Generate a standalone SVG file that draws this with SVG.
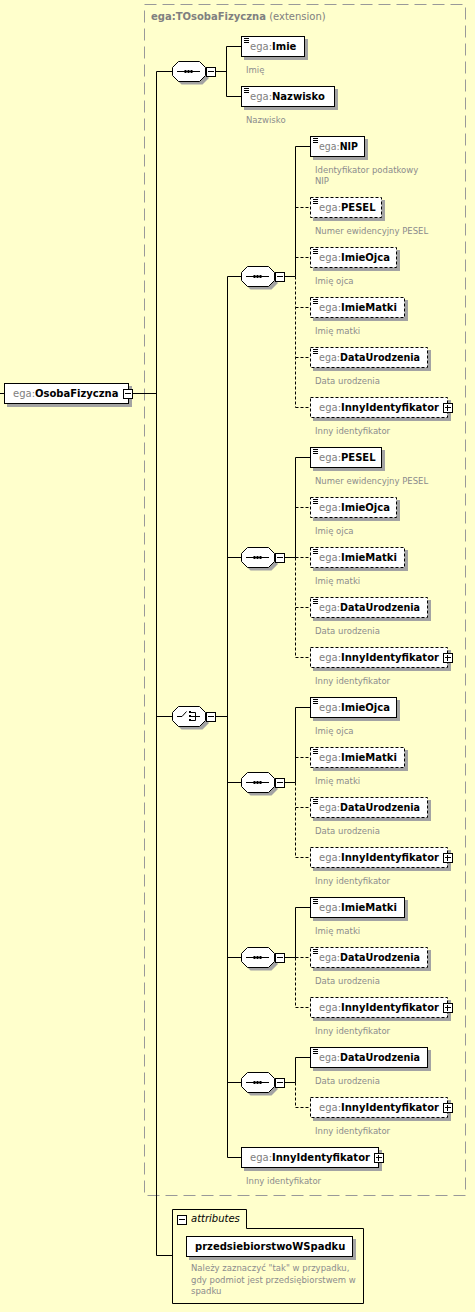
<svg xmlns="http://www.w3.org/2000/svg" xmlns:xlink="http://www.w3.org/1999/xlink" width="475" height="1312" viewBox="0 0 475 1312">
<style>
.bg{fill:#ffffcc}
.ext{fill:none;stroke:#999;stroke-dasharray:12,6}
.sh{fill:#a3a3a3}
.bx{fill:#fff;stroke:#000;stroke-width:1}
.opt{stroke-dasharray:3,2}
.ln{fill:none;stroke:#000;stroke-width:1}
.dl{fill:none;stroke:#000;stroke-width:1;stroke-dasharray:3,2}
.lbl{font-family:"DejaVu Sans",Verdana,sans-serif;font-size:10px}
.ns{fill:#808080}
.nm{fill:#000;font-weight:bold}
.desc{font-family:"DejaVu Sans",Verdana,sans-serif;font-size:8.5px;fill:#8c8c8c}
.ttl{font-family:"DejaVu Sans",Verdana,sans-serif;font-size:10px;fill:#808080}
.att{font-family:"DejaVu Sans",Verdana,sans-serif;font-size:10px;font-style:italic;fill:#000}
</style>
<defs>
<g id="doc"><path d="M0,0.5h5M0,2.5h5M0,4.5h5" stroke="#000" stroke-width="1"/></g>
<g id="bm"><rect x="0.5" y="0.5" width="9" height="9" fill="#fff" stroke="#000"/><path d="M2,4.5h6" stroke="#000"/></g>
<g id="bp"><rect x="0.5" y="0.5" width="9" height="9" fill="#fff" stroke="#000"/><path d="M2,4.5h6M4.5,2v6" stroke="#000"/></g>
<polygon id="oct" points="6.5,0.5 27.5,0.5 33.5,6.5 33.5,14.5 27.5,20.5 6.5,20.5 0.5,14.5 0.5,6.5"/>
<g id="seqN">
<use href="#oct" x="3" y="3" class="sh"/>
<use href="#oct" fill="#fff" stroke="#000"/>
<path d="M5,10.5H28" stroke="#000"/>
<rect x="12.5" y="9" width="2" height="3" fill="#000"/>
<rect x="15.5" y="9" width="2" height="3" fill="#000"/>
<rect x="18.5" y="9" width="2" height="3" fill="#000"/>
<use href="#bm" x="34" y="6"/>
</g>
<g id="choN">
<use href="#oct" x="3" y="3" class="sh"/>
<use href="#oct" fill="#fff" stroke="#000"/>
<path d="M5,10.5H10L14.5,5.5M19,6.5H23.5V14.5H19M19,10.5H28" fill="none" stroke="#000"/>
<rect x="17" y="5" width="2" height="2" fill="#000"/>
<rect x="17" y="9" width="2" height="2" fill="#000"/>
<rect x="17" y="13" width="2" height="2" fill="#000"/>
<use href="#bm" x="34" y="6"/>
</g>
</defs>
<rect class="bg" x="0" y="0" width="475" height="1312"/>

<g id="extension">
<rect class="ext" x="144.5" y="4.5" width="321" height="1191"/>
<text class="ttl" x="151" y="20"><tspan font-weight="bold">ega:TOsobaFizyczna</tspan> (extension)</text>
</g>

<g id="connectors">
<path class="ln" d="M0,393.5H4.5M133,393.5H156.5M156.5,71.5V1255.5M156.5,71.5H172.5M156.5,716.5H172.5M156.5,1255.5H172.5"/>
<path class="ln" d="M216,71.5H226.5M226.5,46.5V96.5M226.5,46.5H241.5M226.5,96.5H241.5"/>
<path class="ln" d="M216,716.5H227.5M227.5,276.5V1157.5M227.5,276.5H241.5M227.5,557.5H241.5M227.5,782.5H241.5M227.5,957.5H241.5M227.5,1082.5H241.5M227.5,1157.5H241.5"/>
<path class="ln" d="M285,276.5H295.5M295.5,146.5V276.5M295.5,146.5H310.5"/>
<path class="dl" d="M295.5,276.5V407.5M295.5,207.5H310.5M295.5,257.5H310.5M295.5,307.5H310.5M295.5,357.5H310.5M295.5,407.5H310.5"/>
<path class="ln" d="M285,557.5H295.5M295.5,457.5V557.5M295.5,457.5H310.5"/>
<path class="dl" d="M295.5,557.5V657.5M295.5,507.5H310.5M295.5,557.5H310.5M295.5,607.5H310.5M295.5,657.5H310.5"/>
<path class="ln" d="M285,782.5H295.5M295.5,707.5V782.5M295.5,707.5H310.5"/>
<path class="dl" d="M295.5,782.5V857.5M295.5,757.5H310.5M295.5,807.5H310.5M295.5,857.5H310.5"/>
<path class="ln" d="M285,957.5H295.5M295.5,907.5V957.5M295.5,907.5H310.5"/>
<path class="dl" d="M295.5,957.5V1007.5M295.5,957.5H310.5M295.5,1007.5H310.5"/>
<path class="ln" d="M285,1082.5H295.5M295.5,1057.5V1082.5M295.5,1057.5H310.5"/>
<path class="dl" d="M295.5,1082.5V1107.5M295.5,1107.5H310.5"/>
</g>

<g id="root">
<rect class="sh" x="7" y="386" width="125" height="21"/>
<rect class="bx" x="4.5" y="383.5" width="124" height="20"/>
<text class="lbl" x="13" y="397"><tspan class="ns">ega:</tspan><tspan class="nm">OsobaFizyczna</tspan></text>
<use href="#bm" x="123" y="389"/>
</g>

<g id="seq1"><use href="#seqN" x="172" y="61"/></g>
<g id="choice"><use href="#choN" x="172" y="706"/></g>
<g id="seqA"><use href="#seqN" x="241" y="266"/></g>
<g id="seqB"><use href="#seqN" x="241" y="547"/></g>
<g id="seqC"><use href="#seqN" x="241" y="772"/></g>
<g id="seqD"><use href="#seqN" x="241" y="947"/></g>
<g id="seqE"><use href="#seqN" x="241" y="1072"/></g>

<g id="imie">
<rect class="sh" x="244" y="39" width="64" height="21"/>
<rect class="bx" x="241.5" y="36.5" width="63" height="20"/>
<use href="#doc" x="244" y="38"/>
<text class="lbl" x="250" y="50"><tspan class="ns">ega:</tspan><tspan class="nm">Imie</tspan></text>
<text class="desc" x="246" y="72.5">Imię</text>
</g>
<g id="nazwisko">
<rect class="sh" x="244" y="89" width="94" height="21"/>
<rect class="bx" x="241.5" y="86.5" width="93" height="20"/>
<use href="#doc" x="244" y="88"/>
<text class="lbl" x="250" y="100"><tspan class="ns">ega:</tspan><tspan class="nm">Nazwisko</tspan></text>
<text class="desc" x="246" y="122.5">Nazwisko</text>
</g>

<g id="a-nip">
<rect class="sh" x="313" y="139" width="55" height="21"/>
<rect class="bx" x="310.5" y="136.5" width="54" height="20"/>
<use href="#doc" x="313" y="138"/>
<text class="lbl" x="319" y="150" textLength="39" lengthAdjust="spacingAndGlyphs"><tspan class="ns">ega:</tspan><tspan class="nm">NIP</tspan></text>
<text class="desc" x="315" y="172.5">Identyfikator podatkowy</text>
<text class="desc" x="315" y="183.5">NIP</text>
</g>
<g id="a-pesel">
<rect class="sh" x="313" y="200" width="72" height="21"/>
<rect class="bx opt" x="310.5" y="197.5" width="71" height="20"/>
<use href="#doc" x="313" y="199"/>
<text class="lbl" x="319" y="211"><tspan class="ns">ega:</tspan><tspan class="nm">PESEL</tspan></text>
<text class="desc" x="315" y="233.5">Numer ewidencyjny PESEL</text>
</g>
<g id="a-imieojca">
<rect class="sh" x="313" y="250" width="87" height="21"/>
<rect class="bx opt" x="310.5" y="247.5" width="86" height="20"/>
<use href="#doc" x="313" y="249"/>
<text class="lbl" x="319" y="261"><tspan class="ns">ega:</tspan><tspan class="nm">ImieOjca</tspan></text>
<text class="desc" x="315" y="283.5">Imię ojca</text>
</g>
<g id="a-imiematki">
<rect class="sh" x="313" y="300" width="95" height="21"/>
<rect class="bx opt" x="310.5" y="297.5" width="94" height="20"/>
<use href="#doc" x="313" y="299"/>
<text class="lbl" x="319" y="311"><tspan class="ns">ega:</tspan><tspan class="nm">ImieMatki</tspan></text>
<text class="desc" x="315" y="333.5">Imię matki</text>
</g>
<g id="a-data">
<rect class="sh" x="313" y="350" width="118" height="21"/>
<rect class="bx opt" x="310.5" y="347.5" width="117" height="20"/>
<use href="#doc" x="313" y="349"/>
<text class="lbl" x="319" y="361" textLength="101" lengthAdjust="spacingAndGlyphs"><tspan class="ns">ega:</tspan><tspan class="nm">DataUrodzenia</tspan></text>
<text class="desc" x="315" y="383.5">Data urodzenia</text>
</g>
<g id="a-inny">
<rect class="sh" x="313" y="400" width="138" height="21"/>
<rect class="bx opt" x="310.5" y="397.5" width="137" height="20"/>
<text class="lbl" x="319" y="411"><tspan class="ns">ega:</tspan><tspan class="nm">InnyIdentyfikator</tspan></text>
<use href="#bp" x="443" y="403"/>
<text class="desc" x="315" y="433.5">Inny identyfikator</text>
</g>

<g id="b-pesel">
<rect class="sh" x="313" y="450" width="72" height="21"/>
<rect class="bx" x="310.5" y="447.5" width="71" height="20"/>
<use href="#doc" x="313" y="449"/>
<text class="lbl" x="319" y="461"><tspan class="ns">ega:</tspan><tspan class="nm">PESEL</tspan></text>
<text class="desc" x="315" y="483.5">Numer ewidencyjny PESEL</text>
</g>
<g id="b-imieojca">
<rect class="sh" x="313" y="500" width="87" height="21"/>
<rect class="bx opt" x="310.5" y="497.5" width="86" height="20"/>
<use href="#doc" x="313" y="499"/>
<text class="lbl" x="319" y="511"><tspan class="ns">ega:</tspan><tspan class="nm">ImieOjca</tspan></text>
<text class="desc" x="315" y="533.5">Imię ojca</text>
</g>
<g id="b-imiematki">
<rect class="sh" x="313" y="550" width="95" height="21"/>
<rect class="bx opt" x="310.5" y="547.5" width="94" height="20"/>
<use href="#doc" x="313" y="549"/>
<text class="lbl" x="319" y="561"><tspan class="ns">ega:</tspan><tspan class="nm">ImieMatki</tspan></text>
<text class="desc" x="315" y="583.5">Imię matki</text>
</g>
<g id="b-data">
<rect class="sh" x="313" y="600" width="118" height="21"/>
<rect class="bx opt" x="310.5" y="597.5" width="117" height="20"/>
<use href="#doc" x="313" y="599"/>
<text class="lbl" x="319" y="611" textLength="101" lengthAdjust="spacingAndGlyphs"><tspan class="ns">ega:</tspan><tspan class="nm">DataUrodzenia</tspan></text>
<text class="desc" x="315" y="633.5">Data urodzenia</text>
</g>
<g id="b-inny">
<rect class="sh" x="313" y="650" width="138" height="21"/>
<rect class="bx opt" x="310.5" y="647.5" width="137" height="20"/>
<text class="lbl" x="319" y="661"><tspan class="ns">ega:</tspan><tspan class="nm">InnyIdentyfikator</tspan></text>
<use href="#bp" x="443" y="653"/>
<text class="desc" x="315" y="683.5">Inny identyfikator</text>
</g>

<g id="c-imieojca">
<rect class="sh" x="313" y="700" width="87" height="21"/>
<rect class="bx" x="310.5" y="697.5" width="86" height="20"/>
<use href="#doc" x="313" y="699"/>
<text class="lbl" x="319" y="711"><tspan class="ns">ega:</tspan><tspan class="nm">ImieOjca</tspan></text>
<text class="desc" x="315" y="733.5">Imię ojca</text>
</g>
<g id="c-imiematki">
<rect class="sh" x="313" y="750" width="95" height="21"/>
<rect class="bx opt" x="310.5" y="747.5" width="94" height="20"/>
<use href="#doc" x="313" y="749"/>
<text class="lbl" x="319" y="761"><tspan class="ns">ega:</tspan><tspan class="nm">ImieMatki</tspan></text>
<text class="desc" x="315" y="783.5">Imię matki</text>
</g>
<g id="c-data">
<rect class="sh" x="313" y="800" width="118" height="21"/>
<rect class="bx opt" x="310.5" y="797.5" width="117" height="20"/>
<use href="#doc" x="313" y="799"/>
<text class="lbl" x="319" y="811" textLength="101" lengthAdjust="spacingAndGlyphs"><tspan class="ns">ega:</tspan><tspan class="nm">DataUrodzenia</tspan></text>
<text class="desc" x="315" y="833.5">Data urodzenia</text>
</g>
<g id="c-inny">
<rect class="sh" x="313" y="850" width="138" height="21"/>
<rect class="bx opt" x="310.5" y="847.5" width="137" height="20"/>
<text class="lbl" x="319" y="861"><tspan class="ns">ega:</tspan><tspan class="nm">InnyIdentyfikator</tspan></text>
<use href="#bp" x="443" y="853"/>
<text class="desc" x="315" y="883.5">Inny identyfikator</text>
</g>

<g id="d-imiematki">
<rect class="sh" x="313" y="900" width="95" height="21"/>
<rect class="bx" x="310.5" y="897.5" width="94" height="20"/>
<use href="#doc" x="313" y="899"/>
<text class="lbl" x="319" y="911"><tspan class="ns">ega:</tspan><tspan class="nm">ImieMatki</tspan></text>
<text class="desc" x="315" y="933.5">Imię matki</text>
</g>
<g id="d-data">
<rect class="sh" x="313" y="950" width="118" height="21"/>
<rect class="bx opt" x="310.5" y="947.5" width="117" height="20"/>
<use href="#doc" x="313" y="949"/>
<text class="lbl" x="319" y="961" textLength="101" lengthAdjust="spacingAndGlyphs"><tspan class="ns">ega:</tspan><tspan class="nm">DataUrodzenia</tspan></text>
<text class="desc" x="315" y="983.5">Data urodzenia</text>
</g>
<g id="d-inny">
<rect class="sh" x="313" y="1000" width="138" height="21"/>
<rect class="bx opt" x="310.5" y="997.5" width="137" height="20"/>
<text class="lbl" x="319" y="1011"><tspan class="ns">ega:</tspan><tspan class="nm">InnyIdentyfikator</tspan></text>
<use href="#bp" x="443" y="1003"/>
<text class="desc" x="315" y="1033.5">Inny identyfikator</text>
</g>

<g id="e-data">
<rect class="sh" x="313" y="1050" width="118" height="21"/>
<rect class="bx" x="310.5" y="1047.5" width="117" height="20"/>
<use href="#doc" x="313" y="1049"/>
<text class="lbl" x="319" y="1061" textLength="101" lengthAdjust="spacingAndGlyphs"><tspan class="ns">ega:</tspan><tspan class="nm">DataUrodzenia</tspan></text>
<text class="desc" x="315" y="1083.5">Data urodzenia</text>
</g>
<g id="e-inny">
<rect class="sh" x="313" y="1100" width="138" height="21"/>
<rect class="bx opt" x="310.5" y="1097.5" width="137" height="20"/>
<text class="lbl" x="319" y="1111"><tspan class="ns">ega:</tspan><tspan class="nm">InnyIdentyfikator</tspan></text>
<use href="#bp" x="443" y="1103"/>
<text class="desc" x="315" y="1133.5">Inny identyfikator</text>
</g>

<g id="inny">
<rect class="sh" x="244" y="1150" width="138" height="21"/>
<rect class="bx" x="241.5" y="1147.5" width="137" height="20"/>
<text class="lbl" x="250" y="1161"><tspan class="ns">ega:</tspan><tspan class="nm">InnyIdentyfikator</tspan></text>
<use href="#bp" x="374" y="1153"/>
<text class="desc" x="246" y="1183.5">Inny identyfikator</text>
</g>

<g id="attributes">
<path class="ln" d="M172.5,1209.5H246.5V1228.5H363.5V1303.5H172.5Z"/>
<use href="#bm" x="177" y="1215"/>
<text class="att" x="191" y="1222">attributes</text>
<rect class="sh" x="189" y="1239" width="167" height="21"/>
<rect class="bx" x="186.5" y="1236.5" width="166" height="20"/>
<text class="lbl nm" x="195" y="1250">przedsiebiorstwoWSpadku</text>
<text class="desc" x="191" y="1271">Należy zaznaczyć "tak" w przypadku,</text>
<text class="desc" x="191" y="1282.5">gdy podmiot jest przedsiębiorstwem w</text>
<text class="desc" x="191" y="1294">spadku</text>
</g>
</svg>
